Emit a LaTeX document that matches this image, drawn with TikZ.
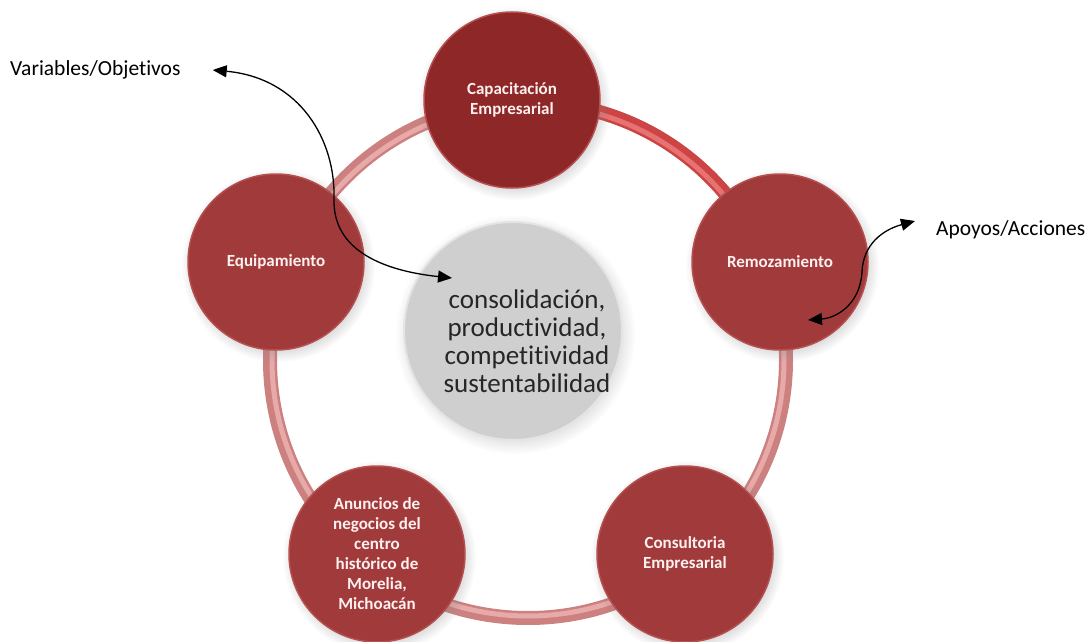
\documentclass[tikz,border=0pt]{standalone}
\usepackage{fontspec}
\setmainfont{Carlito}[Ligatures=NoCommon]
\definecolor{DeepRed}{HTML}{8E2727}
\definecolor{CircleRed}{HTML}{A13B3B}
\definecolor{RimRed}{HTML}{B65050}
\definecolor{RingPink}{HTML}{CC8080}
\definecolor{RingLight}{HTML}{E8A9A9}
\definecolor{RingRed}{HTML}{CC4444}
\definecolor{RingRedLight}{HTML}{E87272}
\definecolor{CoreGray}{HTML}{CFCFCF}
\definecolor{CoreRim}{HTML}{E4E4E4}
\usetikzlibrary{arrows.meta,shadows}

\begin{document}
\begin{tikzpicture}[x=1pt,y=-1pt,
        topic/.style={circle,minimum size=176pt,inner sep=0pt,
                      fill=CircleRed,draw=RimRed,line width=1.5pt,
                      text=white!94!red,align=center,
                      font=\bfseries\fontsize{17}{20}\selectfont,
                      circular drop shadow={shadow xshift=2pt,
                        shadow yshift=-3pt,opacity=0.3}},
        core/.style={circle,minimum size=218pt,inner sep=0pt,
                     fill=CoreGray,draw=CoreRim,line width=2pt,
                     circular drop shadow={shadow xshift=2pt,
                        shadow yshift=-3pt,opacity=0.25}},
        tag/.style={font=\fontsize{21.5}{25}\selectfont,inner sep=0pt},
        link/.style={{Triangle[length=14pt,width=12pt]}-{Triangle[length=14pt,width=12pt]},
                     line width=1.3pt,black}]
  \useasboundingbox (0,0) rectangle (1088,642);

  % ring behind the circles
  \draw[RingPink,line width=14pt] (528,360) circle (258);
  \draw[RingLight,line width=5pt] (528,360) circle (256);
  \draw[RingRed,line width=14pt] (528,360) ++(-92:258)
    arc[start angle=-92,end angle=-24,radius=258];
  \draw[RingRedLight,line width=5pt] (528,360) ++(-92:256)
    arc[start angle=-92,end angle=-24,radius=256];

  % circles
  \node[topic,fill=DeepRed] (cap) at (512,100) {Capacitación\\Empresarial};
  \node[topic] (rem) at (780,262) {Remozamiento};
  \node[topic] (equ) at (276,262) {Equipamiento};
  \node[topic] (anu) at (377,554)
    {Anuncios de\\negocios del\\centro\\histórico de\\Morelia,\\Michoacán};
  \node[topic] (con) at (685,554) {Consultoria\\Empresarial};
  \node[core,label={[font=\fontsize{27}{28}\selectfont,text=black!85,
          align=center,xshift=14pt,yshift=-10pt]center:{consolidación,\\
          productividad,\\competitividad\\sustentabilidad}}] (mid) at (513,331) {};

  % side labels
  \node[tag,anchor=west] (var) at (10,70) {Variables/Objetivos};
  \node[tag,anchor=west] (apo) at (936,230) {Apoyos/Acciones};
  \coordinate (coreIn) at (452,278);
  \coordinate (remIn) at (808,320);

  \draw[link] ([xshift=32pt]var.east) .. controls (300,78) and (336,140) .. (334,200)
    .. controls (333,256) and (395,272) .. (coreIn);
  \draw[link] ([shift={(-21pt,9pt)}]apo.west) .. controls (882,230) and (863,245) .. (862,272)
    .. controls (860,305) and (836,318) .. (remIn);
\end{tikzpicture}
\end{document}
